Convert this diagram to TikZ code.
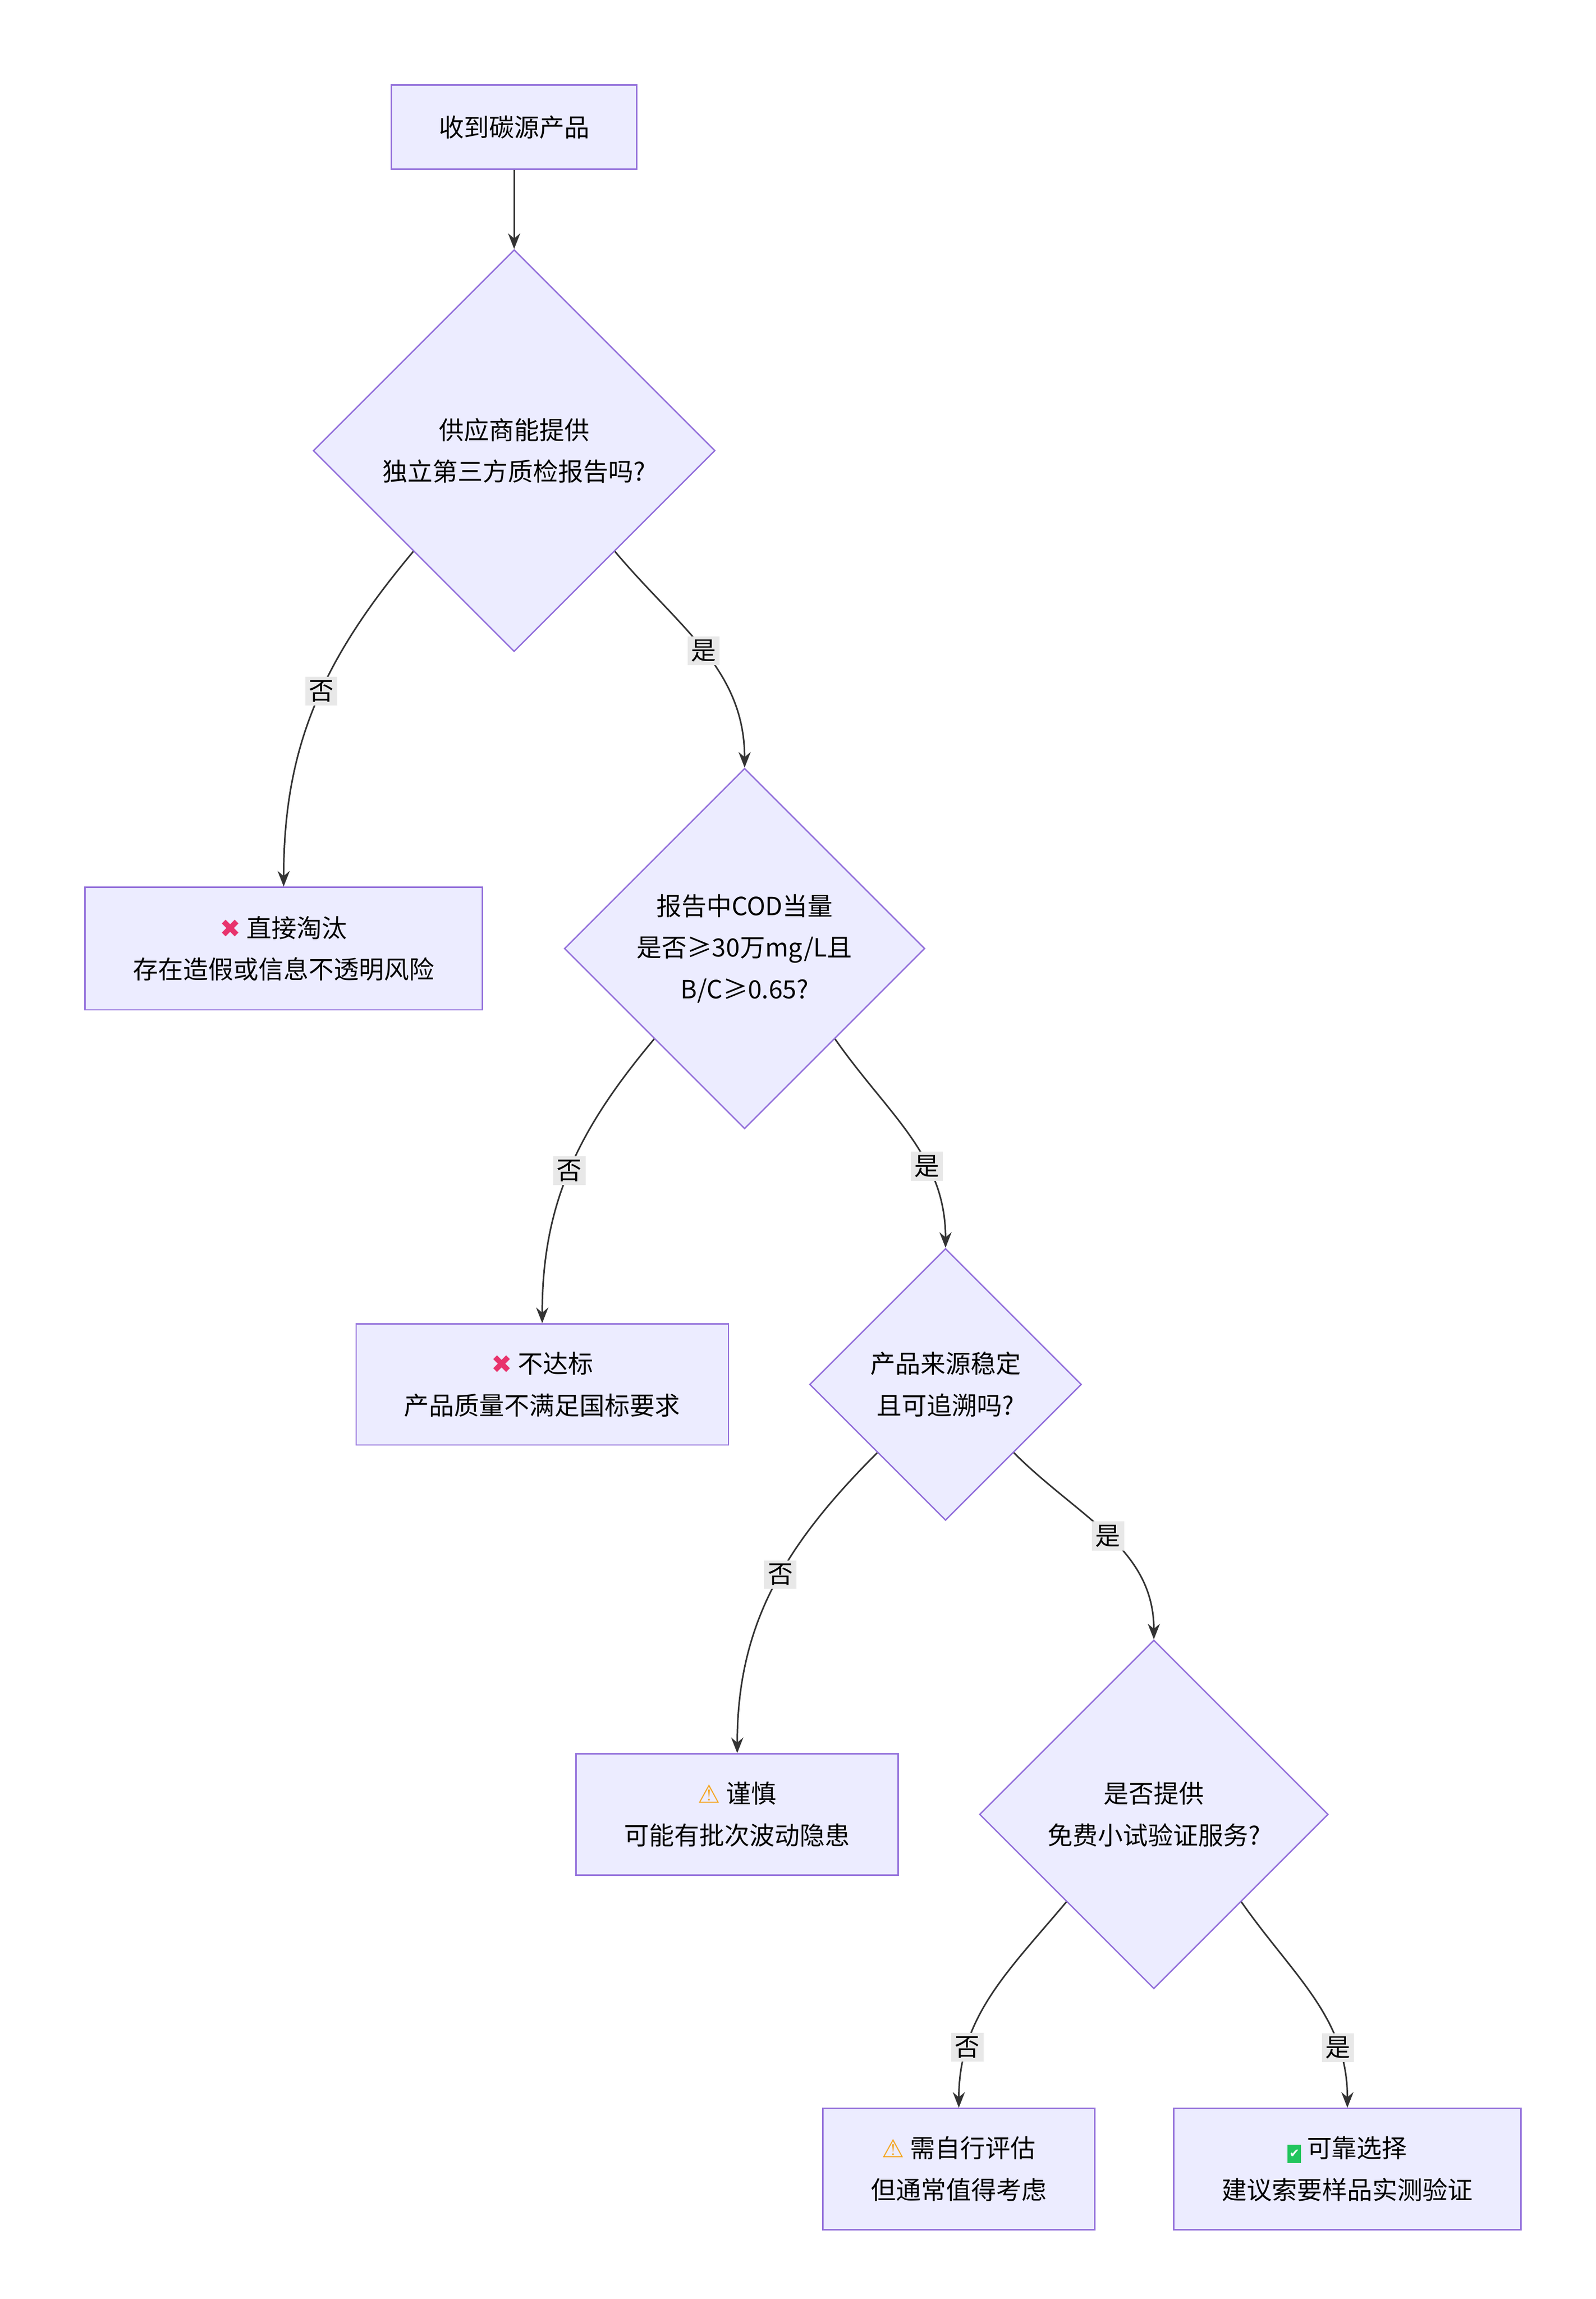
\documentclass[tikz,border=0pt]{standalone}
\usepackage{fontspec}
\setmainfont{Noto Sans CJK SC}
\newfontfamily\symfont{DejaVu Sans}
\usetikzlibrary{shapes.geometric}
\usetikzlibrary{arrows.meta}

\definecolor{nodefill}{HTML}{ECECFF}
\definecolor{nodeline}{HTML}{9370DB}
\definecolor{edgeline}{HTML}{333333}
\definecolor{labelfill}{HTML}{E8E8E8}
\definecolor{badred}{HTML}{E8336D}
\definecolor{warnorange}{HTML}{F5A623}
\definecolor{okgreen}{HTML}{22C55E}

\newcommand{\nope}{{\symfont\color{badred}✖}}
\newcommand{\warn}{{\symfont\color{warnorange}⚠}}
\newcommand{\okay}{\colorbox{okgreen}{\kern-2pt\symfont\color{white}\scriptsize ✔\kern-2pt}}

\tikzset{
  stage/.style={draw=nodeline, fill=nodefill, line width=0.8pt, align=center,
    inner sep=0pt},
  ask/.style={diamond, aspect=1, draw=nodeline, fill=nodefill, line width=0.8pt,
    align=center, inner sep=0pt},
  flow/.style={draw=edgeline, line width=0.9pt, -{Stealth[length=9pt,width=7pt]}},
  tag/.style={fill=labelfill, inner sep=2pt}
}

\begin{document}
\begin{tikzpicture}[x=0.03cm, y=-0.03cm, font=\fontsize{14.5}{24}\selectfont]
  \path[use as bounding box] (0,0) rectangle (1080,1556);
  % Boxes.
  \node[stage, minimum width=4.98cm, minimum height=1.71cm] (start) at (348,86) {收到碳源产品};
  \node[stage, minimum width=8.07cm, minimum height=2.49cm] (fake) at (192,642) {\nope\ 直接淘汰\\存在造假或信息不透明风险};
  \node[stage, minimum width=7.56cm, minimum height=2.46cm] (low) at (367,937) {\nope\ 不达标\\产品质量不满足国标要求};
  \node[stage, minimum width=6.54cm, minimum height=2.46cm] (care) at (499,1228) {\warn\ 谨慎\\可能有批次波动隐患};
  \node[stage, minimum width=5.52cm, minimum height=2.46cm] (self) at (649,1468) {\warn\ 需自行评估\\但通常值得考虑};
  \node[stage, minimum width=7.05cm, minimum height=2.46cm] (good) at (912,1468) {\okay\ 可靠选择\\建议索要样品实测验证};
  % Questions.
  \node[ask, minimum size=8.16cm] (report) at (348,305) {供应商能提供\\独立第三方质检报告吗?};
  \node[ask, minimum size=7.32cm] (cod) at (504,642) {报告中COD当量\\是否≥30万mg/L且\\B/C≥0.65?};
  \node[ask, minimum size=5.52cm] (source) at (640,937) {产品来源稳定\\且可追溯吗?};
  \node[ask, minimum size=7.08cm] (trial) at (781,1228) {是否提供\\免费小试验证服务?};
  % Edges.
  \draw[flow] (start) -- (report);
  \draw[flow] (report.south west) to[out=-130, in=90] node[tag, pos=0.45] {否} (fake.north);
  \draw[flow] (report.south east) to[out=-50, in=90] node[tag, pos=0.5] {是} (cod.north);
  \draw[flow] (cod.south west) to[out=-130, in=90] node[tag, pos=0.5] {否} (low.north);
  \draw[flow] (cod.south east) to[out=-55, in=90] node[tag, pos=0.65] {是} (source.north);
  \draw[flow] (source.south west) to[out=-135, in=90] node[tag, pos=0.45] {否} (care.north);
  \draw[flow] (source.south east) to[out=-45, in=90] node[tag, pos=0.5] {是} (trial.north);
  \draw[flow] (trial.south west) to[out=-130, in=90] node[tag, pos=0.75] {否} (self.north);
  \draw[flow] (trial.south east) to[out=-55, in=90] node[tag, pos=0.75] {是} (good.north);
\end{tikzpicture}
\end{document}
